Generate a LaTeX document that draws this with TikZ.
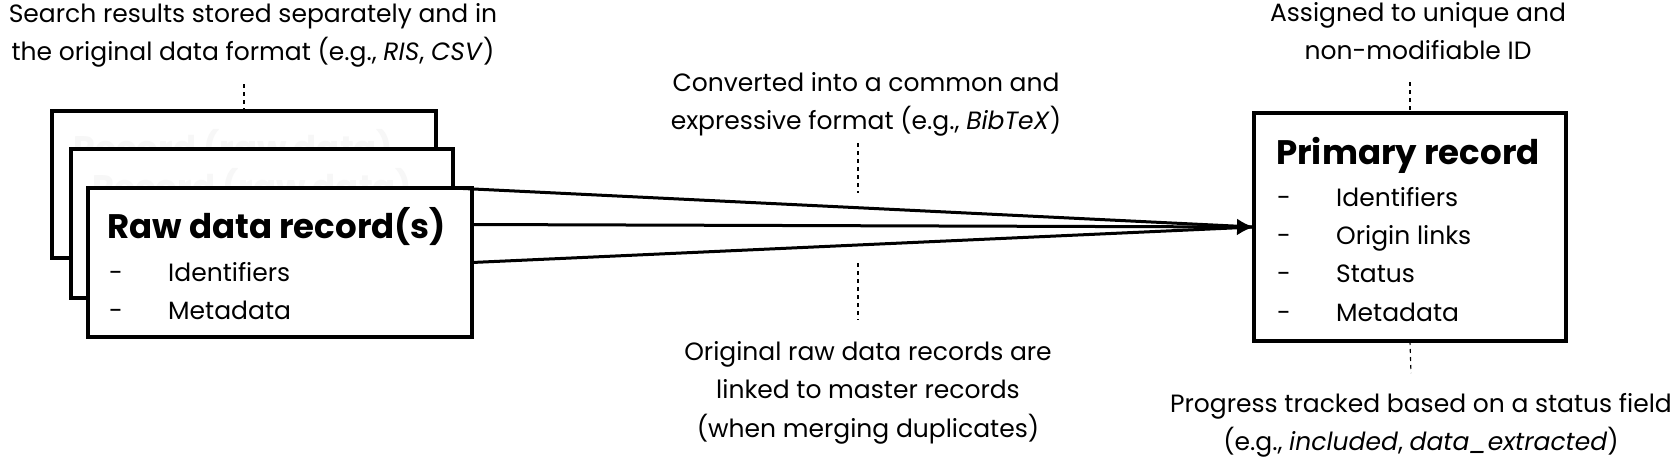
\documentclass[tikz,border=0pt]{standalone}
\usepackage{fontspec}
\setmainfont{Poppins}
\usetikzlibrary{arrows.meta,calc}
\begin{document}
\begin{tikzpicture}[x=1pt,y=-1pt,
  recbox/.style={draw, line width=4.5pt, fill=white, rectangle, inner sep=0pt, outer sep=0pt},
  note/.style={align=center, inner sep=0pt, anchor=north, font=\fontsize{25}{38.5}\selectfont},
  ttl/.style={inner sep=0pt, anchor=base west, font=\fontsize{34}{38}\selectfont\bfseries},
  ghost/.style={inner sep=0pt, anchor=base west, text=black!3, font=\fontsize{34}{38}\selectfont\bfseries},
  itm/.style={inner sep=0pt, anchor=base west, font=\fontsize{25}{38.5}\selectfont},
  leader/.style={line width=1.2pt, dash pattern=on 4pt off 4pt},
  flow/.style={line width=3pt}
]
\useasboundingbox (0,0) rectangle (1676,459);

% stacked raw data records
\node[recbox, minimum width=384pt, minimum height=147pt] (back) at (244,184.5) {};
\node[ghost] (backt) at (73,160) {Record (raw data)};
\node[recbox, minimum width=382pt, minimum height=149pt] (mid) at (262,223.5) {};
\node[ghost] (midt) at (92,199) {Record (raw data)};
\node[recbox, minimum width=384pt, minimum height=149pt] (raw) at (280,262.5) {};
\node[ttl] (rawt) at (107,238) {Raw data record(s)};
\node[itm] (raw1) at (109,281) {\makebox[59pt][l]{-}Identifiers};
\node[itm] (raw2) at (109,319) {\makebox[59pt][l]{-}Metadata};

% primary record
\node[recbox, minimum width=312pt, minimum height=228pt] (prim) at (1410,227) {};
\node[ttl] (primt) at (1276,164) {Primary record};
\node[itm] (prim1) at (1277,206) {\makebox[59pt][l]{-}Identifiers};
\node[itm] (prim2) at (1277,244) {\makebox[59pt][l]{-}Origin links};
\node[itm] (prim3) at (1277,282) {\makebox[59pt][l]{-}Status};
\node[itm] (prim4) at (1277,321) {\makebox[59pt][l]{-}Metadata};

% flows
\coordinate (s1) at (mid.east |- raw.north);
\coordinate (s2) at ($(raw.east)+(0,-38)$);
\draw[flow] (s1) -- (prim.west);
\draw[flow] (raw.east) -- (prim.west);
\draw[flow, -{Latex[length=17pt,width=17pt]}] (s2) -- (prim.west);

% notes
\node[note] (n1) at (253,3) {Search results stored separately and in\\the original data format (e.g., \textit{RIS}, \textit{CSV})};
\node[note] (n2) at (1418,2) {Assigned to unique and\\non-modifiable ID};
\node[note] (n3) at (866,72) {Converted into a common and\\expressive format (e.g., \textit{BibTeX})};
\node[note] (n4) at (868,341) {Original raw data records are\\linked to master records\\(when merging duplicates)};
\node[note] (n5) at (1421,393) {Progress tracked based on a status field\\(e.g., \textit{included}, \textit{data\_extracted})};

% leaders
\coordinate (l1) at (back.north |- 0,84);
\draw[leader] (l1) -- (back.north);
\coordinate (l2) at (prim.north |- 0,82);
\draw[leader] (l2) -- (prim.north);
\coordinate (l3) at ($(prim.south)+(1,32)$);
\draw[leader] (prim.south) -- (l3);
\coordinate (l4a) at (858,143);
\coordinate (l4b) at (858,193);
\draw[leader] (l4a) -- (l4b);
\coordinate (l5a) at (858,263);
\coordinate (l5b) at (858,320);
\draw[leader] (l5a) -- (l5b);
\end{tikzpicture}
\end{document}
